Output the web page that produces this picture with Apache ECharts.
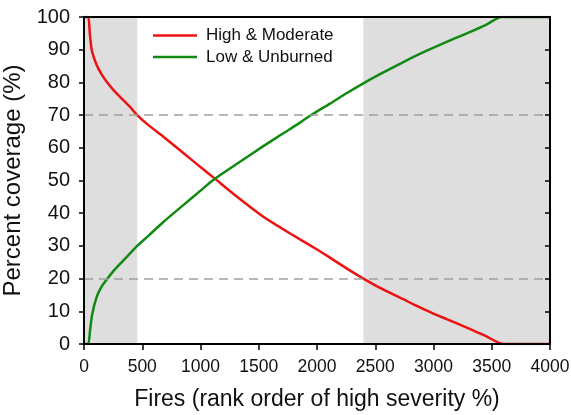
<!DOCTYPE html>
<html>
<head>
<meta charset="utf-8">
<script src="https://cdn.jsdelivr.net/npm/echarts@6/dist/echarts.min.js"></script>
<style>
  html, body { margin: 0; padding: 0; background: #fff; }
  #chart { width: 571px; height: 415px; }
</style>
</head>
<body>
<div id="chart"></div>
<script>
// fire rank (x) and percent coverage (y)
const highModFires = [0, 35, 50, 66, 109, 150, 195, 250, 309, 395, 457, 550, 681, 850, 1000, 1115, 1300, 1539, 1700, 1854, 2000, 2112, 2250, 2398, 2550, 2741, 2827, 3000, 3113, 3300, 3450, 3600, 4000];
const highModPct   = [100, 100, 95, 90, 85.3, 82.5, 80.2, 77.8, 75.6, 72.5, 70, 67, 63.4, 58.5, 54.1, 50.8, 45.4, 38.9, 35.3, 32, 28.9, 26.4, 23.2, 20, 17.0, 13.7, 12.1, 9.3, 7.6, 4.8, 2.4, 0, 0];

const lowUnbFires = [0, 35, 52, 70, 109, 150, 195, 250, 309, 395, 457, 550, 681, 850, 1000, 1115, 1300, 1539, 1700, 1854, 1940, 2112, 2250, 2398, 2541, 2741, 2900, 3113, 3300, 3450, 3585, 4000];
const lowUnbPct   = [0, 0, 4.2, 9, 14.4, 17.5, 19.7, 22.2, 24.5, 27.7, 30, 33, 37.3, 42.4, 46.9, 50.3, 54.8, 60.5, 64.2, 67.7, 69.8, 73.5, 76.6, 79.7, 82.5, 86.2, 89, 92.4, 95.2, 97.6, 100, 100];

const seriesNames = ['High & Moderate', 'Low & Unburned'];
const shadedRanges = [[0, 457], [2398, 4000]];
const refLevels = [70, 20];

const pairs = (xs, ys) => xs.map((x, i) => [x, ys[i]]);
const font = 'Liberation Sans, Arial, sans-serif';

let myChart = echarts.init(document.getElementById('chart'));

let option = {
    animation: false,
    grid: { left: 84, right: 21, top: 17, bottom: 71, outerBoundsMode: 'none', containLabel: false },
    legend: {
        data: seriesNames,
        icon: 'rect',
        orient: 'vertical',
        left: 153,
        top: 27,
        padding: 0,
        itemWidth: 44,
        itemHeight: 2.5,
        itemGap: 4.5,
        textStyle: { fontFamily: font, fontSize: 17, color: '#111', padding: [0, 0, 0, 4] }
    },
    xAxis: [{
        type: 'value', min: 0, max: 4000, interval: 500, z: 10,
        name: 'Fires (rank order of high severity %)',
        nameLocation: 'middle', nameGap: 44,
        nameTextStyle: { fontFamily: font, fontSize: 23, color: '#111' },
        axisLine: { onZero: false, lineStyle: { color: '#000', width: 2 } },
        axisTick: { length: 6, lineStyle: { color: '#000', width: 1.5 } },
        axisLabel: { margin: 14, fontFamily: font, fontSize: 17.5, color: '#111', formatter: v => String(v) },
        splitLine: { show: false }
    }, {
        type: 'value', min: 0, max: 4000, position: 'top', z: 10,
        axisLine: { show: true, onZero: false, lineStyle: { color: '#000', width: 2 } },
        axisTick: { show: false }, axisLabel: { show: false }, splitLine: { show: false }
    }],
    yAxis: [{
        type: 'value', min: 0, max: 100, interval: 10, z: 10,
        name: 'Percent coverage (%)',
        nameLocation: 'middle', nameGap: 49,
        nameTextStyle: { fontFamily: font, fontSize: 24, color: '#111' },
        axisLine: { show: true, onZero: false, lineStyle: { color: '#000', width: 2 } },
        axisTick: { show: true, length: 5, lineStyle: { color: '#000', width: 1.5 } },
        axisLabel: { margin: 14, fontFamily: font, fontSize: 20, color: '#111' },
        splitLine: { show: false }
    }, {
        type: 'value', min: 0, max: 100, interval: 10, position: 'right', z: 10,
        axisLine: { show: true, onZero: false, lineStyle: { color: '#000', width: 2 } },
        axisTick: { show: true, inside: true, length: 5, lineStyle: { color: '#000', width: 1.5 } },
        axisLabel: { show: false }, splitLine: { show: false }
    }],
    series: [
        {
            name: 'bg', type: 'line', data: [], z: 1, silent: true,
            markArea: {
                silent: true,
                itemStyle: { color: '#dedede' },
                data: shadedRanges.map(r => [{ xAxis: r[0] }, { xAxis: r[1] }])
            },
            markLine: {
                silent: true, symbol: 'none',
                label: { show: false },
                lineStyle: { color: '#a0a0a0', type: [9, 6], width: 1.5 },
                data: refLevels.map(v => ({ yAxis: v }))
            }
        },
        {
            name: seriesNames[0], type: 'line', z: 3,
            data: pairs(highModFires, highModPct),
            symbol: 'none', smooth: 0.25,
            itemStyle: { color: '#ee1111' },
            lineStyle: { color: '#ee1111', width: 2.5 }
        },
        {
            name: seriesNames[1], type: 'line', z: 3,
            data: pairs(lowUnbFires, lowUnbPct),
            symbol: 'none', smooth: 0.25,
            itemStyle: { color: '#118a11' },
            lineStyle: { color: '#118a11', width: 2.5 }
        }
    ]
};

myChart.setOption(option);
</script>
</body>
</html>
